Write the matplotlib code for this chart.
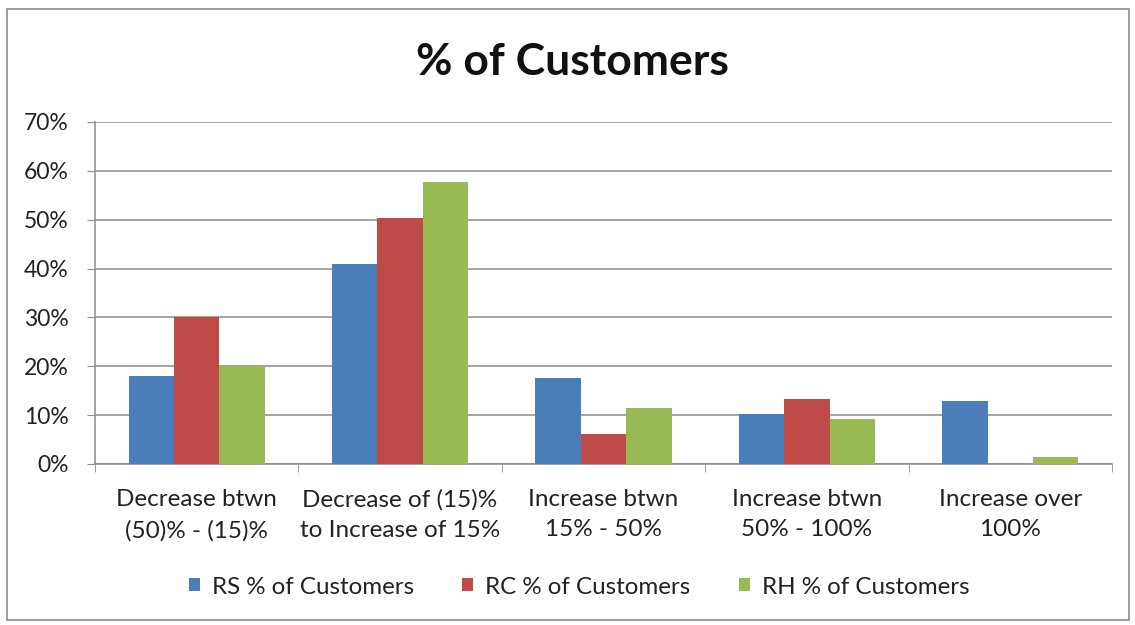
import numpy as np
import matplotlib.pyplot as plt
from matplotlib.patches import Rectangle
from matplotlib.ticker import PercentFormatter, FixedLocator

plt.rcParams['font.family'] = ['Lato', 'DejaVu Sans']

categories = ['Decrease btwn\n(50)% - (15)%',
              'Decrease of (15)%\nto Increase of 15%',
              'Increase btwn\n15% - 50%',
              'Increase btwn\n50% - 100%',
              'Increase over\n100%']
series_names = ['RS % of Customers', 'RC % of Customers', 'RH % of Customers']
rs = [18.1, 40.9, 17.7, 10.2, 12.9]
rc = [30.0, 50.4, 6.1, 13.4, 0.0]
rh = [20.1, 57.7, 11.4, 9.3, 1.5]
colors = ['#4A7EBB', '#BE4B48', '#98B954']

fig = plt.figure(figsize=(11.35, 6.25), dpi=100)
ax = fig.add_axes([95 / 1135, 1 - 464 / 625, (1112 - 95) / 1135, (464 - 122) / 625])

# outer chart frame
fig.patches.append(Rectangle((7 / 1135, 5 / 625), 1122 / 1135, 611 / 625,
                             transform=fig.transFigure, fill=False,
                             edgecolor='#8c8c8c', linewidth=1.2))

x = np.arange(len(categories))
w = 0.223
for i, (vals, name) in enumerate(zip([rs, rc, rh], series_names)):
    ax.bar(x + (i - 1) * w, vals, width=w, color=colors[i], label=name, zorder=3)

ax.set_xlim(-0.5, len(categories) - 0.5)
ax.set_ylim(0, 70)
ax.set_yticks(np.arange(0, 71, 10))
ax.yaxis.set_major_formatter(PercentFormatter(decimals=0))
ax.yaxis.grid(True, color='#8a8a8a', linewidth=1.1, zorder=0)
ax.set_axisbelow(True)

ax.set_xticks(x)
ax.set_xticklabels(categories, fontsize=17.5, color='#222222', linespacing=1.55)
ax.xaxis.set_minor_locator(FixedLocator(np.arange(-0.5, len(categories), 1)))
ax.tick_params(axis='x', which='major', length=0, pad=18)
ax.tick_params(axis='x', which='minor', length=6, color='#8a8a8a')
ax.tick_params(axis='y', labelsize=16.5, length=6, color='#8a8a8a', labelcolor='#222222', pad=13)

for s in ['top', 'right']:
    ax.spines[s].set_visible(False)
for s in ['left', 'bottom']:
    ax.spines[s].set_color('#8a8a8a')
    ax.spines[s].set_linewidth(1.1)

fig.text(572 / 1135, 1 - 62 / 625, '% of Customers', ha='center', va='center',
         fontsize=32, fontweight='bold', color='#111111')

fig.legend(loc='center', bbox_to_anchor=(579 / 1135, 1 - 587 / 625), ncol=3,
           frameon=False, fontsize=17.4, handlelength=0.45, handleheight=0.45,
           handletextpad=0.5, columnspacing=2.0, labelcolor='#222222')

fig.savefig('out.png', dpi=100, facecolor='white')
